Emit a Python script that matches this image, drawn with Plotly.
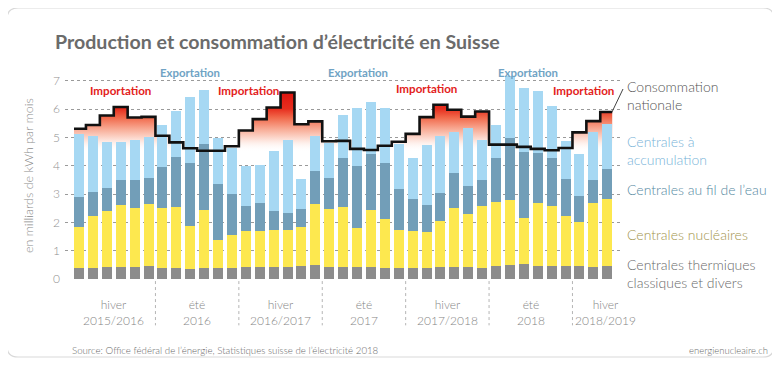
import plotly.graph_objects as go

# ---------------- data (milliards de kWh par mois) ----------------
months = ["2015-10", "2015-11", "2015-12",
          "2016-01", "2016-02", "2016-03", "2016-04", "2016-05", "2016-06",
          "2016-07", "2016-08", "2016-09", "2016-10", "2016-11", "2016-12",
          "2017-01", "2017-02", "2017-03", "2017-04", "2017-05", "2017-06",
          "2017-07", "2017-08", "2017-09", "2017-10", "2017-11", "2017-12",
          "2018-01", "2018-02", "2018-03", "2018-04", "2018-05", "2018-06",
          "2018-07", "2018-08", "2018-09", "2018-10", "2018-11", "2018-12"]

thermique = [0.38, 0.40, 0.41, 0.41, 0.44, 0.45, 0.40, 0.38, 0.35, 0.38, 0.38, 0.40, 0.42,
             0.42, 0.42, 0.41, 0.46, 0.51, 0.41, 0.44, 0.44, 0.42, 0.40, 0.40, 0.40, 0.40,
             0.44, 0.42, 0.42, 0.40, 0.47, 0.50, 0.52, 0.47, 0.47, 0.47, 0.47, 0.44, 0.46]
nucleaire = [1.47, 1.81, 2.00, 2.21, 2.06, 2.20, 2.12, 2.16, 1.51, 2.07, 1.00, 1.16, 1.29,
             1.28, 1.31, 1.31, 1.37, 2.13, 2.07, 2.10, 1.36, 2.03, 1.71, 1.33, 1.30, 1.26,
             1.61, 2.08, 1.88, 2.18, 2.25, 2.30, 1.65, 2.21, 2.10, 1.76, 1.56, 2.24, 2.38]
fil_eau = [1.05, 0.86, 0.80, 0.87, 1.00, 0.93, 1.44, 1.77, 2.24, 2.33, 1.98, 1.44, 0.87,
           0.98, 0.69, 0.63, 0.66, 1.16, 1.09, 1.74, 2.20, 1.97, 1.99, 1.45, 1.11, 0.97,
           0.99, 1.24, 0.97, 0.91, 1.54, 2.19, 2.32, 1.77, 1.71, 1.29, 0.91, 0.82, 1.05]
accumulation = [2.23, 1.97, 1.64, 1.36, 1.41, 1.43, 1.49, 1.62, 2.32, 1.89, 1.62, 1.62, 1.43,
                1.34, 2.11, 2.57, 1.06, 1.26, 1.24, 1.50, 2.04, 1.85, 1.94, 1.58, 1.46, 2.12,
                2.00, 1.47, 2.06, 1.43, 1.17, 2.18, 2.26, 2.19, 1.83, 1.37, 1.49, 1.71, 1.59]
consommation = [5.31, 5.44, 5.78, 6.08, 5.71, 5.73, 5.06, 4.83, 4.62, 4.53, 4.53, 4.69, 5.25,
                5.65, 6.06, 6.59, 5.47, 5.57, 4.87, 4.88, 4.60, 4.56, 4.71, 4.85, 5.13, 5.72,
                6.16, 5.98, 5.74, 5.92, 4.75, 4.75, 4.67, 4.60, 4.55, 4.63, 5.18, 5.58, 5.90]

groups = ["hiver<br>2015/2016", "été<br>2016", "hiver<br>2016/2017", "été<br>2017",
          "hiver<br>2017/2018", "été<br>2018", "hiver<br>2018/2019"]
group_sizes = [6, 6, 6, 6, 6, 6, 3]
y_ticks = [0, 1, 2, 3, 4, 5, 6, 7]

# ---------------- styling ----------------
C_GRAY = "#8c8c8c"
C_YEL = "#fde84f"
C_DARK = "#729eb8"
C_LIGHT = "#a6d8f3"
FONT = "Lato"
LIGHT = 300

# page is 780x365; the html body has an 8px margin, so the figure is offset
OFF = 8
W, H = 780 - OFF, 365 - OFF
# plot area in page pixels
PL, PR, PT, PB = 65, 620, 73, 279
ML, MR, MT, MB = PL - OFF, W - (PR - OFF), PT - OFF, H - (PB - OFF)
PW, PH = PR - PL, PB - PT
BARW = 0.72
xr = [-1.007, 38.92]
yr = [0, 7.28]


def px2paper(px, py):
    """page pixel -> paper coordinates"""
    return (px - PL) / PW, (PB - py) / PH


x = list(range(len(months)))
half = BARW / 2
x_line = [x[0] - half] + x + [x[-1] + half]
y_line = [consommation[0]] + consommation + [consommation[-1]]

fig = go.Figure()

# gradient "Importation" area (base axes, drawn beneath bars)
fig.add_trace(go.Scatter(
    x=x_line, y=y_line, mode="lines", line=dict(width=0, shape="hvh"),
    fill="tozeroy",
    fillgradient=dict(type="vertical", start=4.5, stop=6.6,
                      colorscale=[[0, "rgba(255,255,255,0)"], [0.19, "#fde4dc"],
                                  [0.38, "#f8ab95"], [0.57, "#f16a4c"], [0.72, "#e72e1e"],
                                  [1, "#e0140f"]]),
    hoverinfo="skip", showlegend=False, xaxis="x", yaxis="y"))

for vals, col, name in [(thermique, C_GRAY, "Centrales thermiques"),
                        (nucleaire, C_YEL, "Centrales nucléaires"),
                        (fil_eau, C_DARK, "Centrales au fil de l'eau"),
                        (accumulation, C_LIGHT, "Centrales à accumulation")]:
    fig.add_trace(go.Bar(x=x, y=vals, marker=dict(color=col, line=dict(width=0)),
                         width=BARW, name=name, showlegend=False,
                         xaxis="x2", yaxis="y2"))

fig.add_trace(go.Scatter(x=x_line, y=y_line, mode="lines",
                         line=dict(color="#111111", width=2.6, shape="hvh"),
                         showlegend=False, xaxis="x2", yaxis="y2", name="Consommation"))

shapes = []
annotations = []


def rrect(x0, y0, x1, y1, r):
    def P(px, py):
        a, b = px2paper(px, py)
        return f"{a:.5f},{b:.5f}"
    return (f"M {P(x0 + r, y0)} L {P(x1 - r, y0)} Q {P(x1, y0)} {P(x1, y0 + r)} "
            f"L {P(x1, y1 - r)} Q {P(x1, y1)} {P(x1 - r, y1)} "
            f"L {P(x0 + r, y1)} Q {P(x0, y1)} {P(x0, y1 - r)} "
            f"L {P(x0, y0 + r)} Q {P(x0, y0)} {P(x0 + r, y0)} Z")


shapes.append(dict(type="path", xref="paper", yref="paper", path=rrect(7, 8, 774, 357, 11),
                   line=dict(color="#d9d9d9", width=1.2), fillcolor="rgba(0,0,0,0)", layer="below"))

# group dividers and labels
start = 0
for i, (g, n) in enumerate(zip(groups, group_sizes)):
    if i > 0:
        shapes.append(dict(type="line", xref="x", yref="paper", x0=start - 0.5, x1=start - 0.5,
                           y0=-0.01, y1=-0.225, line=dict(color="#b5b5b5", width=1, dash="dot")))
    cx = start + (n - 1) / 2
    if n < 6:
        cx = start + 1.9
    annotations.append(dict(x=cx, y=px2paper(0, 312)[1], xref="x", yref="paper", text=g,
                            showarrow=False,
                            font=dict(family=FONT, size=12, color="#858585", weight=LIGHT),
                            align="center", xanchor="center", yanchor="middle"))
    start += n

# Exportation / Importation labels
for xx in [8.0, 20.1, 32.3]:
    annotations.append(dict(x=xx, y=px2paper(0, 72)[1], xref="x", yref="paper",
                            text="<b>Exportation</b>", showarrow=False,
                            font=dict(family=FONT, size=11.4, color="#6fa3c4"), yanchor="middle"))
for xx, py in [(3.0, 90), (12.2, 90), (25.0, 88), (36.3, 90)]:
    annotations.append(dict(x=xx, y=px2paper(0, py)[1], xref="x", yref="paper",
                            text="<b>Importation</b>", showarrow=False,
                            font=dict(family=FONT, size=11.6, color="#e3221b"), yanchor="middle"))

# right-hand labels
lx = px2paper(625, 0)[0]
for txt, py, col in [("Consommation<br>nationale", 96, "#555555"),
                     ("Centrales à<br>accumulation", 150, "#79b3d8"),
                     ("Centrales au fil de l’eau", 189, "#55899f"),
                     ("Centrales nucléaires", 234, "#a3944c"),
                     ("Centrales thermiques<br>classiques et divers", 273, "#6a6a6a")]:
    annotations.append(dict(x=lx, y=px2paper(0, py)[1], xref="paper", yref="paper", text=txt,
                            showarrow=False, align="left", xanchor="left", yanchor="middle",
                            font=dict(family=FONT, size=14, color=col, weight=LIGHT)))

# leader line for consumption label
a0 = px2paper(612, 112)
a1 = px2paper(623, 89)
shapes.append(dict(type="line", xref="paper", yref="paper", x0=a0[0], y0=a0[1], x1=a1[0], y1=a1[1],
                   line=dict(color="#444444", width=1)))

# y-axis title
annotations.append(dict(x=px2paper(28, 0)[0], y=0.5, xref="paper", yref="paper",
                        text="en milliards de kWh par mois", textangle=-90, showarrow=False,
                        font=dict(family=FONT, size=12.5, color="#8a8a8a", weight=LIGHT),
                        xanchor="center", yanchor="middle"))

# source & website
annotations.append(dict(x=px2paper(70, 0)[0], y=px2paper(0, 350)[1], xref="paper", yref="paper",
                        text="Source: Office fédéral de l’énergie, Statistiques suisse de l’électricité 2018",
                        showarrow=False, xanchor="left", yanchor="middle",
                        font=dict(family=FONT, size=9.7, color="#6a6a6a", weight=LIGHT)))
annotations.append(dict(x=px2paper(770, 0)[0], y=px2paper(0, 350)[1], xref="paper", yref="paper",
                        text="energienucleaire.ch", showarrow=False, xanchor="right",
                        yanchor="middle",
                        font=dict(family=FONT, size=9.5, color="#6a6a6a", weight=LIGHT)))

fig.update_layout(
    width=W, height=H, margin=dict(l=ML, r=MR, t=MT, b=MB, autoexpand=False),
    paper_bgcolor="white", plot_bgcolor="white",
    barmode="stack", bargap=0.28,
    title=dict(text="<b>Production et consommation d’électricité en Suisse</b>",
               xref="container", yref="container", x=(55 - OFF) / W, xanchor="left",
               y=1 - (42 - OFF) / H, yanchor="middle",
               font=dict(family=FONT, size=19.6, color="#6b6b6b")),
    xaxis=dict(range=xr, showgrid=False, zeroline=False, showticklabels=False,
               ticks="", showline=False, fixedrange=True),
    yaxis=dict(range=yr, tickvals=y_ticks, showgrid=True, gridcolor="#9a9a9a",
               griddash="dot", gridwidth=1, zeroline=False, showline=False,
               tickfont=dict(family=FONT, size=12, color="#8f8f8f", weight=LIGHT), ticks="",
               ticklabelstandoff=4, automargin=False),
    xaxis2=dict(range=xr, overlaying="x", visible=False),
    yaxis2=dict(range=yr, overlaying="y", visible=False),
    shapes=shapes, annotations=annotations,
    font=dict(family=FONT),
)

fig.write_html("out.html")
